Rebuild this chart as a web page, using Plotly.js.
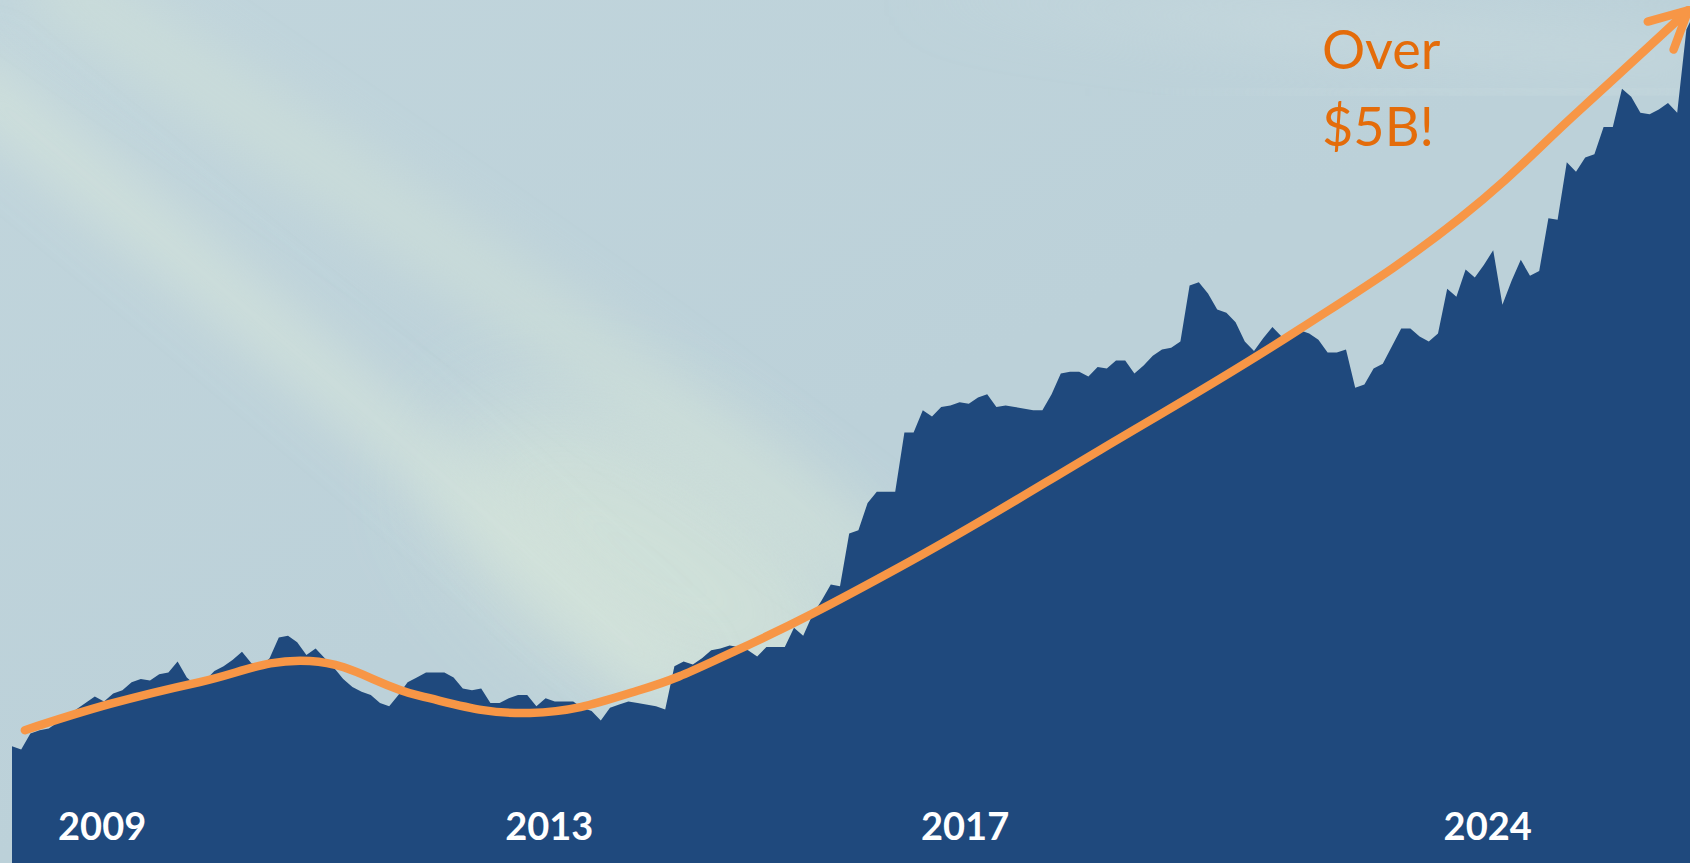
<!DOCTYPE html>
<html>
<head>
<meta charset="utf-8">
<script src="https://cdn.plot.ly/plotly-3.0.1.min.js"></script>
<style>
  html, body { margin: 0; padding: 0; width: 1690px; height: 863px; overflow: hidden; background: #bed3db; }
  #bg { position: absolute; left: 0; top: 0; width: 1690px; height: 863px; }
  #chart { position: absolute; left: 0; top: 0; width: 1690px; height: 863px; }
  #chart .scatterlayer .js-line { stroke-linecap: round; stroke-linejoin: round; }
</style>
</head>
<body>
<svg id="bg" width="1690" height="863" viewBox="0 0 1690 863">
  <defs>
    <filter id="blur1" x="-50%" y="-50%" width="200%" height="200%"><feGaussianBlur stdDeviation="26"/></filter>
    <filter id="blur2" x="-50%" y="-50%" width="200%" height="200%"><feGaussianBlur stdDeviation="50"/></filter>
    <linearGradient id="base" x1="0" y1="0" x2="1" y2="1">
      <stop offset="0" stop-color="#c1d5dc"/>
      <stop offset="0.5" stop-color="#bcd1d9"/>
      <stop offset="1" stop-color="#bcd1d9"/>
    </linearGradient>
    <linearGradient id="fadeR" x1="0" y1="0" x2="1" y2="0">
      <stop offset="0" stop-color="#cddde0" stop-opacity="0"/>
      <stop offset="0.5" stop-color="#cddde0" stop-opacity="1"/>
      <stop offset="1" stop-color="#cddde0" stop-opacity="0.8"/>
    </linearGradient>
  </defs>
  <rect x="0" y="0" width="1690" height="863" fill="url(#base)"/>
  <ellipse cx="650" cy="560" rx="230" ry="120" transform="rotate(32 650 560)" fill="#d2e2d9" opacity="0.85" filter="url(#blur2)"/>
  <path d="M -40 70 C 150 230, 400 430, 680 690" stroke="#d5e4db" stroke-width="55" fill="none" opacity="0.72" filter="url(#blur1)"/>
  <path d="M 40 -30 C 300 150, 600 350, 900 580" stroke="#d2e2d9" stroke-width="70" fill="none" opacity="0.55" filter="url(#blur1)"/>
  <path d="M 900 -10 C 1200 20, 1450 40, 1700 60" stroke="url(#fadeR)" stroke-width="50" fill="none" opacity="0.5" filter="url(#blur1)"/>
  <path d="M 1100 90 C 1350 95, 1550 95, 1700 90" stroke="url(#fadeR)" stroke-width="30" fill="none" opacity="0.5" filter="url(#blur1)"/>
</svg>
<div id="chart"></div>
<script>
// ---- data (monthly index, value in $B) ----
const monthIndex = [];
const monthlyValue = [
  0.73, 0.71, 0.81, 0.83, 0.84, 0.88, 0.92, 0.96, 1.00, 1.04,
  1.01, 1.06, 1.08, 1.13, 1.15, 1.14, 1.18, 1.19, 1.26, 1.16,
  1.11, 1.14, 1.20, 1.23, 1.27, 1.32, 1.25, 1.23, 1.28, 1.41,
  1.42, 1.38, 1.30, 1.34, 1.28, 1.22, 1.15, 1.10, 1.07, 1.05,
  1.00, 0.98, 1.05, 1.13, 1.16, 1.19, 1.19, 1.19, 1.16, 1.09,
  1.08, 1.09, 1.00, 1.00, 1.03, 1.05, 1.05, 0.98, 1.03, 1.01,
  1.01, 1.01, 0.97, 0.95, 0.89, 0.97, 0.99, 1.01, 1.00, 0.99,
  0.98, 0.96, 1.23, 1.26, 1.24, 1.28, 1.33, 1.34, 1.36, 1.35,
  1.33, 1.29, 1.35, 1.35, 1.35, 1.47, 1.42, 1.55, 1.64, 1.74,
  1.73, 2.06, 2.08, 2.25, 2.32, 2.32, 2.32, 2.69, 2.69, 2.83,
  2.79, 2.85, 2.86, 2.88, 2.87, 2.91, 2.93, 2.85, 2.86, 2.85,
  2.84, 2.83, 2.83, 2.93, 3.06, 3.07, 3.07, 3.04, 3.10, 3.09,
  3.14, 3.14, 3.06, 3.11, 3.17, 3.21, 3.22, 3.26, 3.61, 3.63,
  3.56, 3.46, 3.44, 3.38, 3.26, 3.20, 3.28, 3.35, 3.29, 3.31,
  3.33, 3.31, 3.27, 3.19, 3.19, 3.21, 2.97, 2.99, 3.09, 3.12,
  3.23, 3.34, 3.34, 3.29, 3.26, 3.31, 3.59, 3.54, 3.71, 3.66,
  3.74, 3.83, 3.49, 3.64, 3.77, 3.67, 3.70, 4.03, 4.02, 4.38,
  4.32, 4.41, 4.43, 4.60, 4.60, 4.84, 4.79, 4.69, 4.68, 4.71,
  4.75, 4.69, 5.21, 5.33
];
for (let i = 0; i < monthlyValue.length; i++) monthIndex.push(i);

const trendIndex = [1.4, 10.65, 20.4, 32.4, 44.35, 56.3, 68.25, 78.4, 96.5, 118.25, 140, 157.4, 170.4, 182.2];
const trendValue = [0.83, 0.994, 1.131, 1.263, 1.044, 0.938, 1.081, 1.319, 1.85, 2.581, 3.338, 4.031, 4.706, 5.33];

const tickPositions = [9.8, 58.4, 103.6, 160.4];
const tickLabels = ['2009', '2013', '2017', '2024'];
const calloutLines = ['Over', '$5B!'];

// ---- layout constants ----
const W = 1690, H = 863;
const xRange = [-1.304, 182.391];
const yRange = [0, 5.394];

// arrowhead built from the trend's end direction
function toPx(x, y) {
  return [(x - xRange[0]) / (xRange[1] - xRange[0]) * W,
          H - (y - yRange[0]) / (yRange[1] - yRange[0]) * H];
}
function toData(px, py) {
  return [xRange[0] + px / W * (xRange[1] - xRange[0]),
          yRange[0] + (H - py) / H * (yRange[1] - yRange[0])];
}
const n = trendIndex.length;
const tip = toPx(trendIndex[n - 1], trendValue[n - 1]);
const prev = toPx(trendIndex[n - 2], trendValue[n - 2]);
let dx = prev[0] - tip[0], dy = prev[1] - tip[1];
const len = Math.hypot(dx, dy); dx /= len; dy /= len;
const armLen = 42, ang = 27 * Math.PI / 180;
function arm(s) {
  const c = Math.cos(s * ang), sn = Math.sin(s * ang);
  return toData(tip[0] + armLen * (dx * c - dy * sn), tip[1] + armLen * (dx * sn + dy * c));
}
const a1 = arm(1), a2 = arm(-1);
const headX = [a1[0], trendIndex[n - 1], a2[0]];
const headY = [a1[1], trendValue[n - 1], a2[1]];

const traces = [
  {
    x: monthIndex, y: monthlyValue, type: 'scatter', mode: 'lines',
    fill: 'tozeroy', fillcolor: '#1f497d',
    line: { width: 0, color: '#1f497d', shape: 'linear' },
    hoverinfo: 'skip'
  },
  {
    x: trendIndex, y: trendValue, type: 'scatter', mode: 'lines',
    line: { color: '#f79646', width: 8.5, shape: 'spline', smoothing: 1.2 },
    hoverinfo: 'skip'
  },
  {
    x: headX, y: headY, type: 'scatter', mode: 'lines',
    line: { color: '#f79646', width: 8.5 },
    hoverinfo: 'skip'
  }
];

const calloutFont = { family: 'Lato, sans-serif', size: 54, color: '#e46c0a' };
const layout = {
  width: W, height: H,
  margin: { l: 0, r: 0, t: 0, b: 0, pad: 0 },
  paper_bgcolor: 'rgba(0,0,0,0)',
  plot_bgcolor: 'rgba(0,0,0,0)',
  showlegend: false,
  xaxis: {
    range: xRange, showgrid: false, zeroline: false, showline: false,
    tickmode: 'array', tickvals: tickPositions, ticktext: tickLabels,
    ticks: '', ticklabelposition: 'inside', ticklabelstandoff: 12,
    tickfont: { family: 'Lato, sans-serif', size: 38, color: '#ffffff', weight: 700 },
    fixedrange: true
  },
  yaxis: {
    range: yRange, showgrid: false, zeroline: false, showline: false,
    showticklabels: false, ticks: '', fixedrange: true
  },
  annotations: calloutLines.map((t, k) => ({
    text: t, xref: 'paper', yref: 'paper',
    x: 1320 / W, y: 1 - (14 + 77 * k) / H, xanchor: 'left', yanchor: 'top', align: 'left',
    showarrow: false, font: calloutFont
  }))
};

Plotly.newPlot('chart', traces, layout, { staticPlot: true, displayModeBar: false });
</script>
</body>
</html>
